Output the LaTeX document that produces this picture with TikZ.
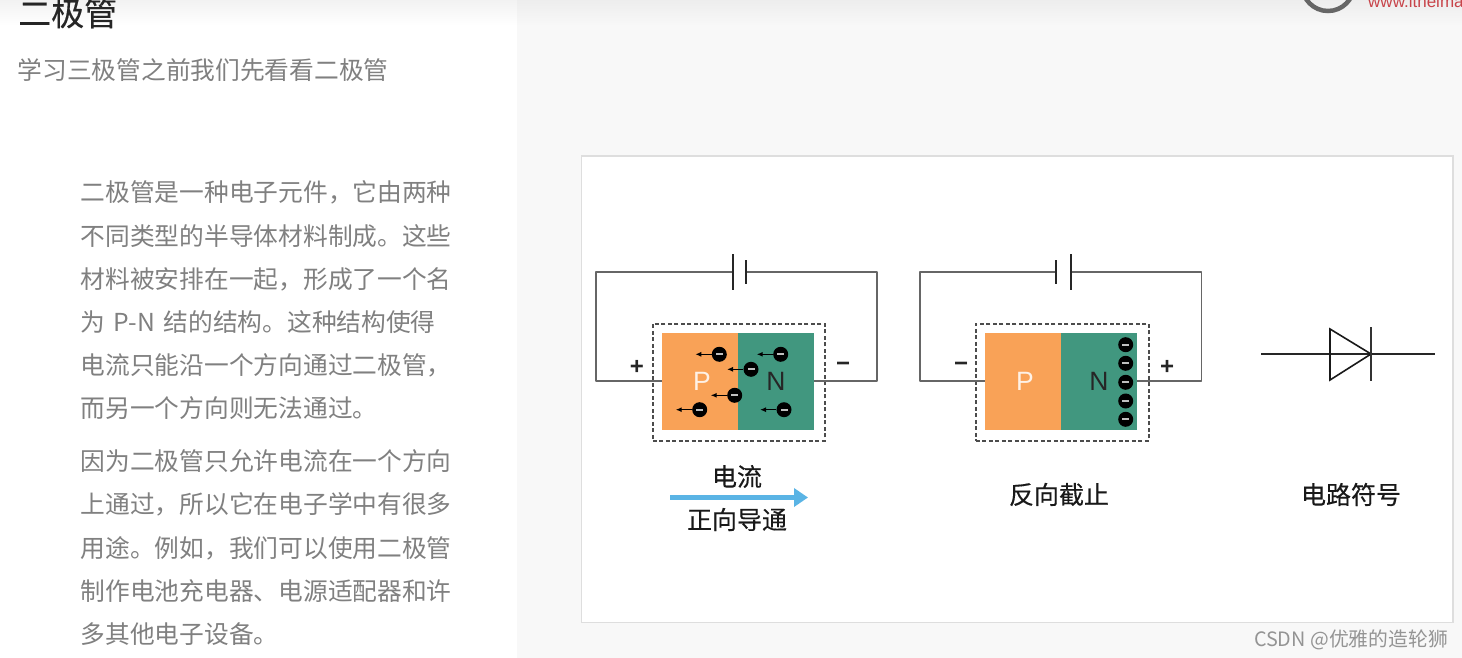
\documentclass[tikz,border=0pt]{standalone}
\usepackage{fontspec}
\setmainfont{Liberation Sans}
\newfontfamily\cjk{Noto Sans CJK SC}
\newfontfamily\cjkb[FakeBold=0.35]{Noto Sans CJK SC}
\usetikzlibrary{arrows.meta}
\definecolor{pcol}{HTML}{F9A257}
\definecolor{ncol}{HTML}{41977F}
\definecolor{wirecol}{HTML}{666666}
\definecolor{bodytxt}{HTML}{808080}
\definecolor{paneback}{HTML}{F8F8F8}
\definecolor{flowcol}{HTML}{5AB4E5}
\definecolor{logored}{HTML}{C8444A}
\tikzset{
  wire/.style={draw=wirecol,line width=1.5pt,line join=round},
  plate/.style={draw=black!85,line width=1.8pt},
  dashbox/.style={draw=black!70,line width=1.5pt,dash pattern=on 4pt off 2.5pt,inner sep=0,anchor=north west},
  block/.style={inner sep=0,anchor=north west,text width=0},
  letter/.style={inner sep=0,font=\fontsize{26.5}{26.5}\selectfont},
  sign/.style={inner sep=0,font=\bfseries\fontsize{24}{24}\selectfont,text=black!85},
  elec/.style={circle,fill=black,minimum size=15pt,inner sep=0},
  bar/.style={fill=white!75!black,minimum width=7pt,minimum height=2pt,inner sep=0},
  pull/.style={draw=black,line width=1.3pt,-{Latex[length=6pt,width=5pt]}},
  body/.style={inner sep=0,anchor=west,text=bodytxt,font=\cjk\fontsize{24.73}{24.73}\selectfont},
  caption/.style={inner sep=0,text=black!90,font=\cjkb\fontsize{25}{25}\selectfont},
  dline/.style={draw=black!85,line width=1.1pt},
}
\newcommand{\electron}[3]{%
  \node[elec] (#1) at (#2,#3) {};
  \node[bar] at (#1) {};
  \coordinate (#1t) at (#2-24,#3);
  \draw[pull] (#1.west) -- (#1t);
}
\newcommand{\charge}[3]{%
  \node[elec] (#1) at (#2,#3) {};
  \node[bar] at (#1) {};
}
\begin{document}
\begin{tikzpicture}[x=1pt,y=-1pt]
\useasboundingbox (0,0) rectangle (1462,658);
\clip (0,0) rectangle (1462,658);
% backgrounds
\fill[white] (0,0) rectangle (517,658);
\fill[paneback] (517,0) rectangle (1462,658);
\shade[top color=black!7,bottom color=paneback] (517,0) rectangle (1462,26);
\shade[top color=black!5,bottom color=white] (0,0) rectangle (517,26);
% top right logo
\draw[draw=black!60,line width=4.5pt] (1328,-15) circle (26);
\node[inner sep=0,anchor=west,text=logored,font=\fontsize{17}{17}\selectfont] (logo) at (1368,1) {www.itheima};
% left text
\node[inner sep=0,anchor=west,text=black!85,font=\cjkb\fontsize{33}{33}\selectfont] (title) at (18,13) {二极管};
\node[body] (sub) at (17.5,70) {学习三极管之前我们先看看二极管};
\node[body] (l1) at (80.5,192) {二极管是一种电子元件，它由两种};
\node[body] (l2) at (80.5,236) {不同类型的半导体材料制成。这些};
\node[body] (l3) at (80.5,279) {材料被安排在一起，形成了一个名};
\node[body] (l4) at (80.5,322) {为\hspace{3pt} P-N\hspace{3pt} 结的结构。这种结构使得};
\node[body] (l5) at (80.5,365) {电流只能沿一个方向通过二极管，};
\node[body] (l6) at (80.5,408) {而另一个方向则无法通过。};
\node[body] (l7) at (80.5,461) {因为二极管只允许电流在一个方向};
\node[body] (l8) at (80.5,504) {上通过，所以它在电子学中有很多};
\node[body] (l9) at (80.5,548) {用途。例如，我们可以使用二极管};
\node[body] (l10) at (80.5,591) {制作电池充电器、电源适配器和许};
\node[body] (l11) at (80.5,634) {多其他电子设备。};
% image frame
\node[draw=black!13,line width=1.4pt,fill=white,inner sep=0,minimum width=871.8pt,minimum height=466pt,anchor=north west] (frame) at (580.5,155.5) {};
% ---- forward diagram
\node[dashbox,minimum width=172pt,minimum height=117pt] (box1) at (652,323) {};
\node[block,fill=pcol,minimum width=76pt,minimum height=97pt] (p1) at (662,333) {};
\node[block,fill=ncol,minimum width=76pt,minimum height=97pt] (n1) at (738,333) {};
\coordinate (bl1) at (733,272);
\coordinate (bs1) at (746,272);
\coordinate (a1) at (596,272);
\coordinate (b1) at (596,381);
\coordinate (c1) at (877,272);
\coordinate (d1) at (877,381);
\coordinate (e1) at (662,381);
\coordinate (f1) at (814,381);
\draw[wire] (bl1) -- (a1) -- (b1) -- (e1);
\draw[wire] (bs1) -- (c1) -- (d1) -- (f1);
\draw[plate] (733,254) -- (733,290);
\draw[plate] (746,260) -- (746,284);
\node[letter,text=white!85!pcol] (pl1) at (702,381) {P};
\node[letter,text=black!85] (nl1) at (776,381) {N};
\node[sign] (s1) at (637,367) {+};
\node[sign] (s2) at (843,367) {−};
\electron{e1a}{719.3}{354.3}
\electron{e1b}{780.7}{354.3}
\electron{e1c}{751}{369.3}
\electron{e1d}{734.7}{395.3}
\electron{e1e}{699.7}{409.7}
\electron{e1f}{784}{409.7}
\node[caption] (cur) at (737,476.5) {电流};
\node[caption] (fwd) at (737,519.5) {正向导通};
\coordinate (ca) at (670,497.5);
\coordinate (cb) at (808,497.5);
\draw[draw=flowcol,line width=5pt,-{Triangle[length=14pt,width=18pt]}] (ca) -- (cb);
% ---- reverse diagram
\node[dashbox,minimum width=173pt,minimum height=117pt] (box2) at (975,323) {};
\node[block,fill=pcol,minimum width=76pt,minimum height=97pt] (p2) at (985,333) {};
\node[block,fill=ncol,minimum width=76pt,minimum height=97pt] (n2) at (1061,333) {};
\coordinate (bs2) at (1056,272);
\coordinate (bl2) at (1071,272);
\coordinate (a2) at (920,272);
\coordinate (b2) at (920,381);
\coordinate (c2) at (1201.5,272);
\coordinate (d2) at (1201.5,381);
\coordinate (e2) at (985,381);
\coordinate (f2) at (1137,381);
\draw[wire] (bs2) -- (a2) -- (b2) -- (e2);
\draw[wire] (bl2) -- (c2) -- (d2) -- (f2);
\draw[plate] (1056,260) -- (1056,284);
\draw[plate] (1071,254) -- (1071,290);
\node[letter,text=white!85!pcol] (pl2) at (1025,381) {P};
\node[letter,text=black!85] (nl2) at (1099,381) {N};
\node[sign] (s3) at (961,367) {−};
\node[sign] (s4) at (1167,367) {+};
\charge{e2a}{1125.7}{344.7}
\charge{e2b}{1125.7}{363.3}
\charge{e2c}{1125.7}{382.3}
\charge{e2d}{1125.7}{401}
\charge{e2e}{1125.7}{419.3}
\node[caption] (rev) at (1059,494.5) {反向截止};
% ---- diode symbol
\coordinate (dl) at (1261,354);
\coordinate (dr) at (1435,354);
\coordinate (ta) at (1330,329);
\coordinate (tb) at (1330,380);
\coordinate (tc) at (1371,354);
\draw[dline] (dl) -- (dr);
\draw[draw=black!90,line width=1.6pt,line join=miter] (ta) -- (tc) -- (tb) -- cycle;
\draw[draw=black!80,line width=1.1pt] (1371,327) -- (1371,381);
\node[caption] (sym) at (1351,494.5) {电路符号};
% watermark
\node[inner sep=0,anchor=east,text=black!42,font=\cjk\fontsize{19.8}{19.8}\selectfont] (mark) at (1448,639.5) {CSDN @优雅的造轮狮};
\end{tikzpicture}
\end{document}
